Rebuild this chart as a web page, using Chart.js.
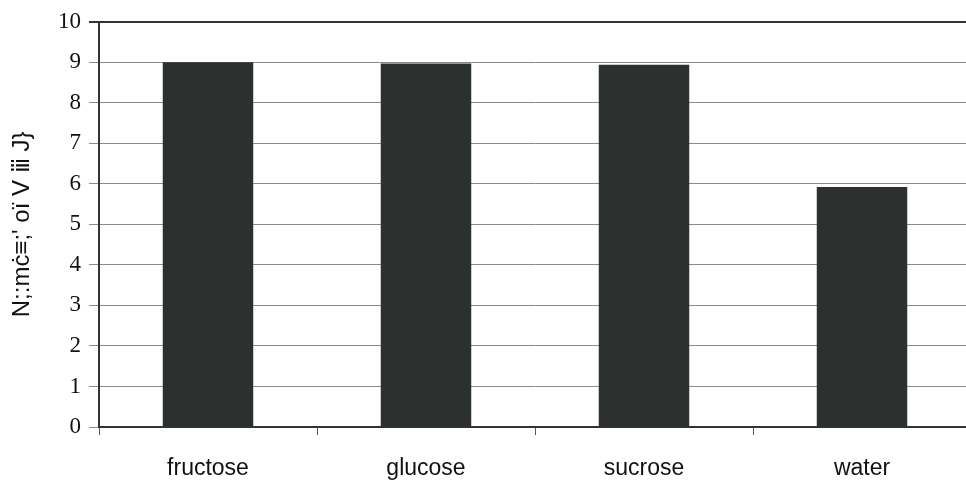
<!DOCTYPE html>
<html>
<head>
<meta charset="utf-8">
<script src="https://cdn.jsdelivr.net/npm/chart.js@4.4.1/dist/chart.umd.min.js"></script>
<style>
  html, body { margin: 0; padding: 0; background: #fff; overflow: hidden; }
  #wrap { width: 971px; height: 483px; position: relative; }
</style>
</head>
<body>
<div id="wrap"><canvas id="chart"></canvas></div>
<script>
// --- Data ---
const categories = ['fructose', 'glucose', 'sucrose', 'water'];
const values = [9.0, 8.97, 8.94, 5.92];
const yTicks = [0, 1, 2, 3, 4, 5, 6, 7, 8, 9, 10];
const yTitle = "N;:mċ≡;' oï V ⅲ J}";

const ctx = document.getElementById('chart').getContext('2d');

new Chart(ctx, {
  type: 'bar',
  data: {
    labels: categories,
    datasets: [{
      data: values,
      backgroundColor: '#2c302f',
      borderWidth: 0,
      barPercentage: 0.415,
      categoryPercentage: 1
    }]
  },
  options: {
    responsive: true,
    maintainAspectRatio: false,
    animation: false,
    layout: { padding: { top: 20, right: 0, left: 0, bottom: 0 } },
    plugins: { legend: { display: false }, tooltip: { enabled: false } },
    scales: {
      x: {
        offset: true,
        grid: {
          offset: true,
          drawOnChartArea: false,
          drawTicks: true,
          tickLength: 8,
          color: '#555',
          lineWidth: 1
        },
        border: { color: '#333', width: 2 },
        ticks: {
          color: '#111',
          padding: 20,
          font: { family: 'Liberation Sans, Arial, sans-serif', size: 23 }
        },
        afterFit: (scale) => { scale.height = 56; }
      },
      y: {
        min: 0,
        max: 10,
        afterBuildTicks: (scale) => { scale.ticks = yTicks.map((v) => ({ value: v })); },
        grid: {
          color: (c) => c.tick && c.tick.value === 10 ? '#333' : '#8a8a8a',
          lineWidth: (c) => c.tick && c.tick.value === 10 ? 2 : 1,
          tickLength: 10
        },
        border: { color: '#333', width: 2 },
        ticks: {
          color: '#111',
          padding: 8,
          font: { family: 'Liberation Serif, Times New Roman, serif', size: 23 }
        },
        title: {
          display: true,
          text: yTitle,
          color: '#111',
          padding: { top: 8, bottom: 4 },
          font: { family: 'Liberation Sans, Arial, sans-serif', size: 24 }
        },
        afterFit: (scale) => { scale.width = 99; }
      }
    }
  }
});
</script>
</body>
</html>
